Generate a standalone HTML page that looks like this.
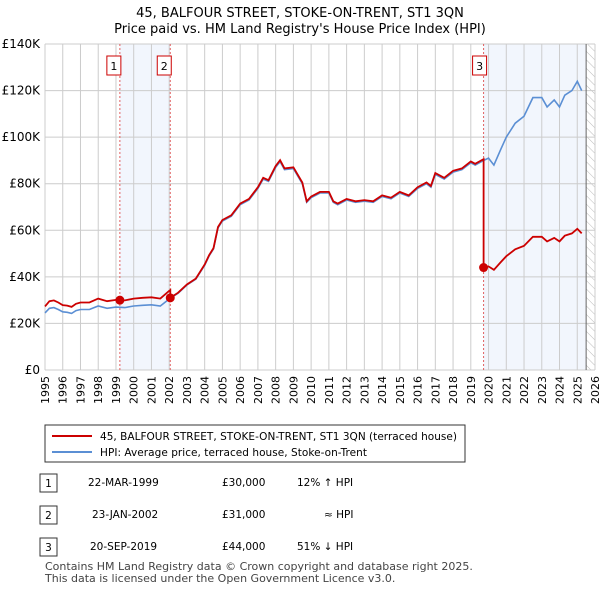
<!DOCTYPE html>
<html><head><meta charset="utf-8">
<style>
body{margin:0;background:#fff;font-family:"Liberation Sans","DejaVu Sans",sans-serif;}
#wrap{position:relative;width:600px;height:590px;overflow:hidden;}
svg text{font-family:"DejaVu Sans","Liberation Sans",sans-serif;}
</style></head><body>
<div id="wrap">
<svg id="s" width="600" height="590">
<text x="300" y="17" text-anchor="middle" font-size="13">45, BALFOUR STREET, STOKE-ON-TRENT, ST1 3QN</text>
<text x="300" y="33" text-anchor="middle" font-size="13">Price paid vs. HM Land Registry's House Price Index (HPI)</text>
<defs><pattern id="hatch" width="6" height="6" patternUnits="userSpaceOnUse" patternTransform="rotate(-45)"><line x1="0" y1="0" x2="0" y2="6" stroke="#bbb" stroke-width="1"/></pattern></defs>
<g id="g"></g>
<rect x="45" y="425" width="420" height="37" fill="#fff" stroke="#333"/>
<line x1="52" y1="436" x2="92" y2="436" stroke="#cc0000" stroke-width="2"/>
<text x="100" y="440" font-size="10.5" textLength="357">45, BALFOUR STREET, STOKE-ON-TRENT, ST1 3QN (terraced house)</text>
<line x1="52" y1="452" x2="92" y2="452" stroke="#5b8fd4" stroke-width="2"/>
<text x="100" y="456" font-size="10.5" textLength="267">HPI: Average price, terraced house, Stoke-on-Trent</text>
<g font-size="10.5">
<rect x="40" y="474" width="17" height="18" fill="#fff" stroke="#333"/><text x="48.5" y="487" text-anchor="middle">1</text>
<text x="88" y="486">22-MAR-1999</text><text x="222" y="486">£30,000</text><text x="297" y="486">12% ↑ HPI</text>
<rect x="40" y="506" width="17" height="18" fill="#fff" stroke="#333"/><text x="48.5" y="519" text-anchor="middle">2</text>
<text x="92" y="518">23-JAN-2002</text><text x="222" y="518">£31,000</text><text x="324" y="518">≈ HPI</text>
<rect x="40" y="538" width="17" height="18" fill="#fff" stroke="#333"/><text x="48.5" y="551" text-anchor="middle">3</text>
<text x="90" y="550">20-SEP-2019</text><text x="222" y="550">£44,000</text><text x="297" y="550">51% ↓ HPI</text>
</g>
<text x="45" y="570" font-size="11" fill="#444">Contains HM Land Registry data © Crown copyright and database right 2025.</text>
<text x="45" y="582" font-size="11" fill="#444">This data is licensed under the Open Government Licence v3.0.</text>
</svg>
</div>
<script>
const hpiYears=[1995,1995.25,1995.5,1995.75,1996,1996.25,1996.5,1996.75,1997,1997.5,1998,1998.5,1999,1999.5,2000,2000.5,2001,2001.5,2002,2002.5,2003,2003.5,2004,2004.25,2004.5,2004.75,2005,2005.5,2006,2006.5,2007,2007.3,2007.6,2008,2008.25,2008.5,2009,2009.5,2009.75,2010,2010.5,2011,2011.25,2011.5,2012,2012.5,2013,2013.5,2014,2014.5,2015,2015.5,2016,2016.5,2016.75,2017,2017.5,2018,2018.5,2019,2019.25,2019.72,2020,2020.3,2020.7,2021,2021.5,2022,2022.5,2023,2023.3,2023.7,2024,2024.3,2024.7,2025,2025.25];
const hpiValues=[24500,26500,26800,26000,25000,24800,24300,25500,26000,26000,27500,26500,27000,26800,27500,27800,28000,27500,30500,33000,36500,39000,45000,49000,52000,61000,64000,66000,71000,73000,78000,82000,81000,87000,89500,86000,86500,80000,72000,74000,76000,76000,72000,71000,73000,72000,72500,72000,74500,73500,76000,74500,78000,80000,78500,84000,82000,85000,86000,89000,88000,90000,91000,88000,95000,100000,106000,109000,117000,117000,113000,116000,113000,118000,120000,124000,120000];
const saleYears=[1999.22,2002.06,2019.72];
const salePrices=[30000,31000,44000];
const saleLabels=["1","2","3"];
const yTicks=[0,20000,40000,60000,80000,100000,120000,140000];
const yTickLabels=["£0","£20K","£40K","£60K","£80K","£100K","£120K","£140K"];
const xTicks=[1995,1996,1997,1998,1999,2000,2001,2002,2003,2004,2005,2006,2007,2008,2009,2010,2011,2012,2013,2014,2015,2016,2017,2018,2019,2020,2021,2022,2023,2024,2025,2026];
const dataEnd=2025.5;
const NS='http://www.w3.org/2000/svg';
const L=45,R=595,T=44,B=370;
const xs=y=>L+(y-1995)/31*(R-L);
const ys=v=>B-v/140000*(B-T);
const g=document.getElementById('g');
function mk(tag,at){const e=document.createElementNS(NS,tag);for(const k in at)e.setAttribute(k,at[k]);g.appendChild(e);return e;}
function hpiAt(t){for(let i=0;i<hpiYears.length-1;i++){if(t<=hpiYears[i+1]){const f=(t-hpiYears[i])/(hpiYears[i+1]-hpiYears[i]);return hpiValues[i]+f*(hpiValues[i+1]-hpiValues[i]);}}return hpiValues[hpiValues.length-1];}
let e;
e=mk('rect',{x:xs(saleYears[0]),y:T,width:xs(saleYears[1])-xs(saleYears[0]),height:B-T,fill:'#f2f6fd'});


e=mk('rect',{x:xs(saleYears[2]),y:T,width:xs(dataEnd)-xs(saleYears[2]),height:B-T,fill:'#f2f6fd'});


e=mk('rect',{x:xs(dataEnd),y:T,width:R-xs(dataEnd),height:B-T,fill:'url(#hatch)'});


xTicks.forEach(t=>{e=mk('line',{x1:xs(t),x2:xs(t),y1:T,y2:B,stroke:'#cccccc'});


e=mk('text',{transform:`translate(${xs(t)+4},${B+6}) rotate(-90)`,'text-anchor':'end','font-size':11});e.textContent=t;

});
yTicks.forEach((v,i)=>{e=mk('line',{x1:L,x2:R,y1:ys(v),y2:ys(v),stroke:'#cccccc'});


e=mk('text',{x:L-5,y:ys(v)+4,'text-anchor':'end','font-size':12});e.textContent=yTickLabels[i];

});
e=mk('line',{x1:xs(dataEnd),x2:xs(dataEnd),y1:T,y2:B,stroke:'#666'});


saleYears.forEach((t,i)=>{e=mk('line',{x1:xs(t),x2:xs(t),y1:T,y2:B,stroke:'#e06060','stroke-dasharray':'2,2'});


e=mk('rect',{x:xs(t)-(i==2?11:13),y:56,width:14,height:19,fill:'#fff',stroke:'#cc0000'});


e=mk('text',{x:xs(t)-(i==2?4:6),y:70,'text-anchor':'middle','font-size':11});e.textContent=saleLabels[i];

});
const hp=hpiYears.map((t,i)=>`${xs(t).toFixed(1)},${ys(hpiValues[i]).toFixed(1)}`).join(' ');
e=mk('polyline',{points:hp,fill:'none',stroke:'#5b8fd4','stroke-width':1.6});


const pts=[];
function ratioAt(t){let k=0;for(let i=0;i<saleYears.length;i++)if(t>=saleYears[i])k=i;return salePrices[k]/hpiAt(saleYears[k]);}
const times=[...hpiYears,...saleYears].sort((a,b)=>a-b);
times.forEach(t=>{
 saleYears.forEach((s,k)=>{if(t===s&&k>0){const r=salePrices[k-1]/hpiAt(saleYears[k-1]);pts.push([t,hpiAt(t)*r]);}});
 pts.push([t,hpiAt(t)*ratioAt(t)]);});
e=mk('polyline',{points:pts.map(p=>`${xs(p[0]).toFixed(1)},${ys(p[1]).toFixed(1)}`).join(' '),fill:'none',stroke:'#cc0000','stroke-width':1.8});


saleYears.forEach((t,i)=>{e=mk('circle',{cx:xs(t),cy:ys(salePrices[i]),r:4.5,fill:'#cc0000'});

});
</script>
</body></html>
